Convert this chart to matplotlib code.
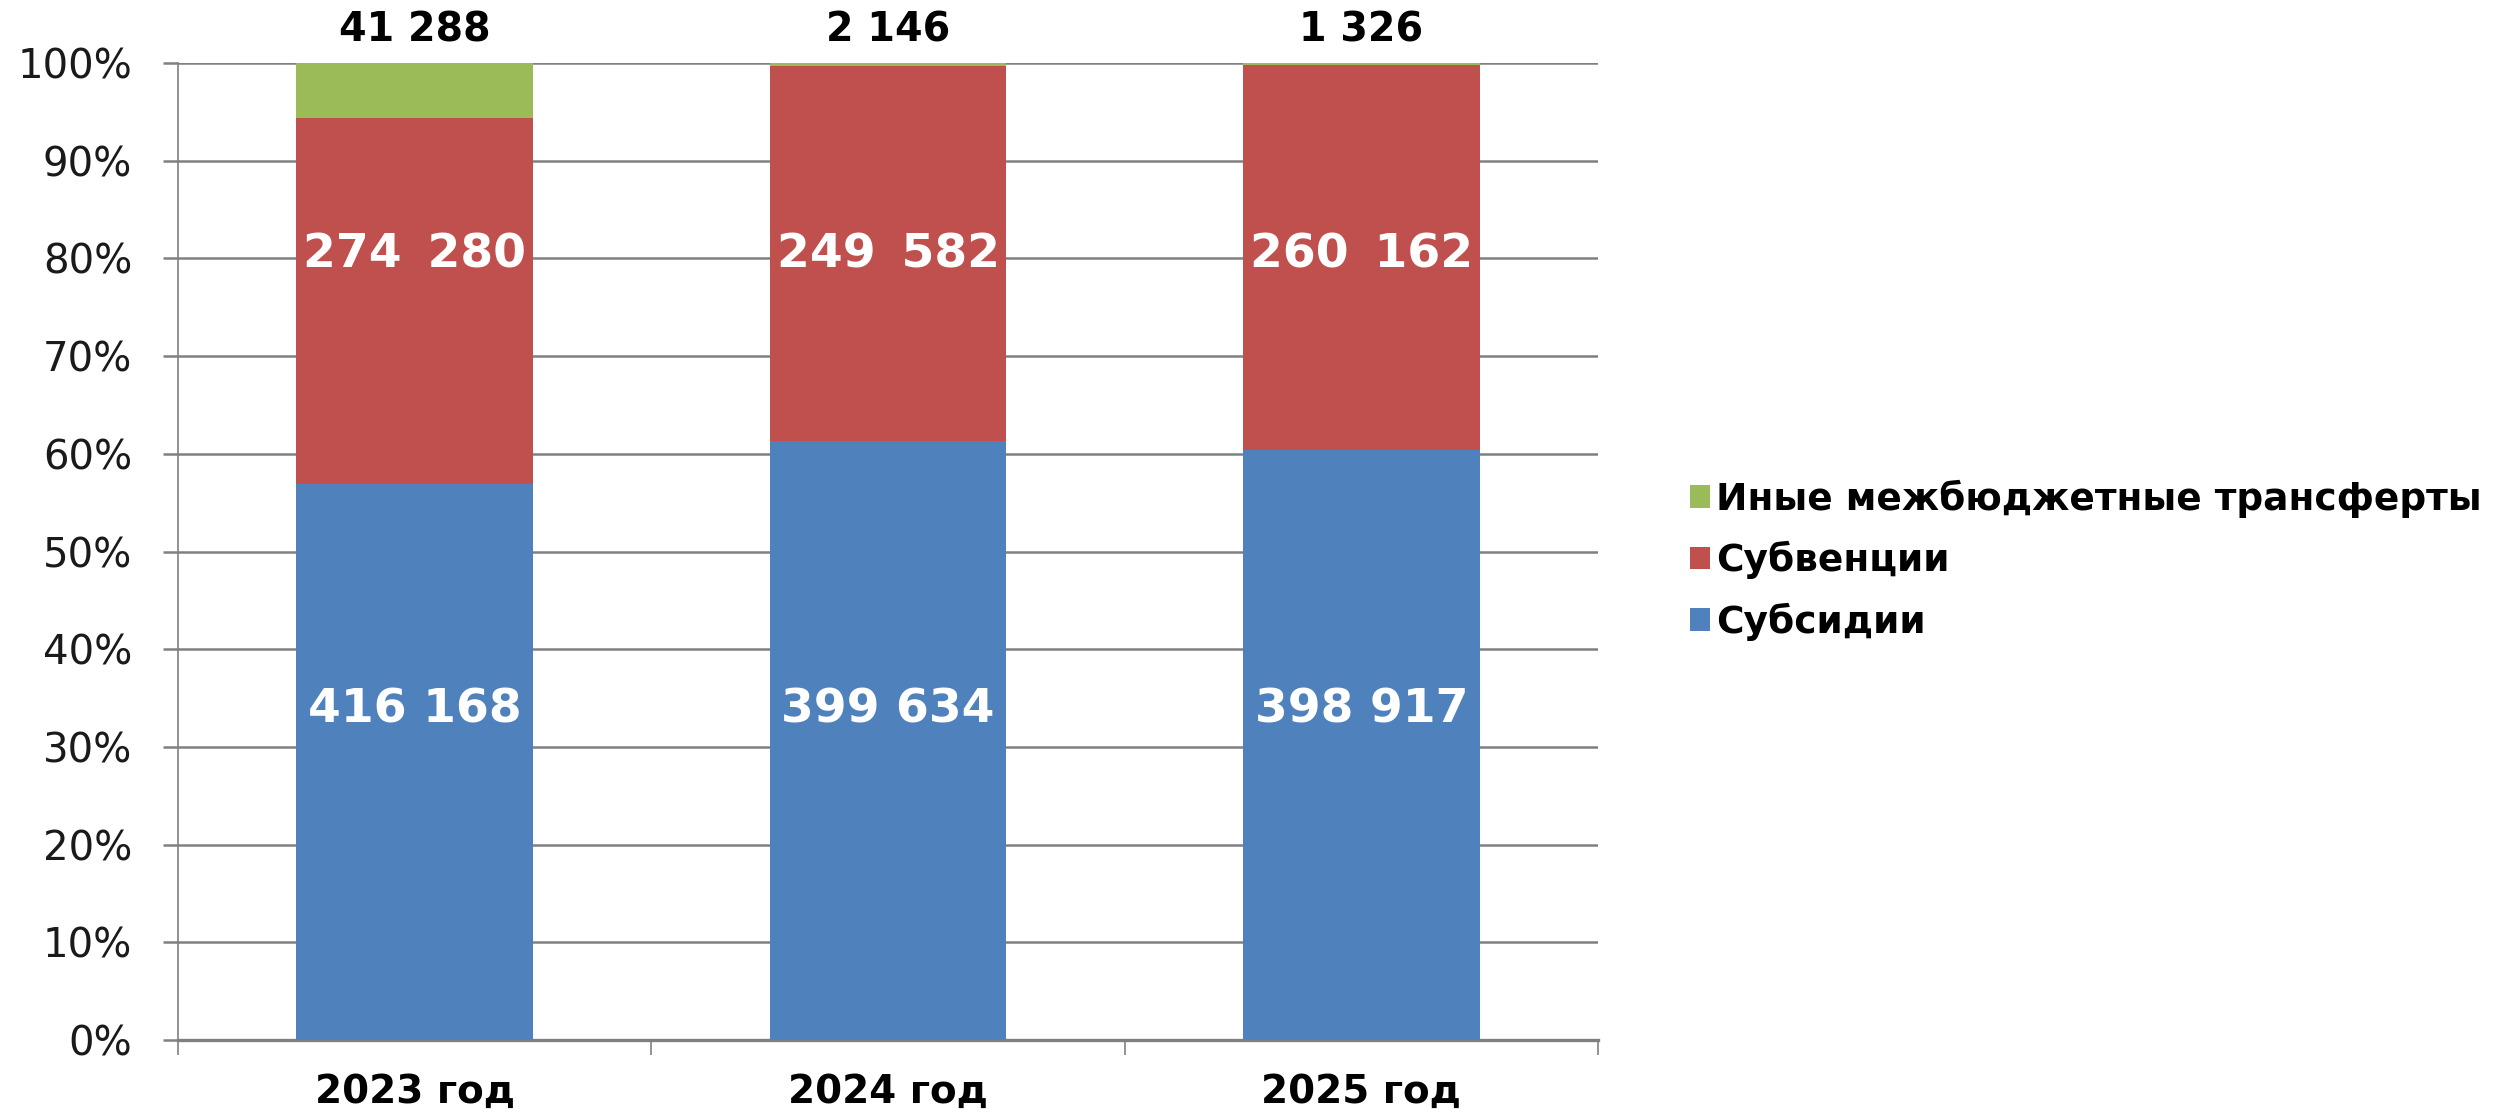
import numpy as np
import matplotlib
matplotlib.use("Agg")
import matplotlib.pyplot as plt
from matplotlib.ticker import PercentFormatter

plt.rcParams["font.family"] = ["DejaVu Sans"]

# ---- data (тыс. руб.) ----
years = ["2023 год", "2024 год", "2025 год"]
subsidies = [416168, 399634, 398917]
subventions = [274280, 249582, 260162]
other = [41288, 2146, 1326]

series_names = ["Субсидии", "Субвенции", "Иные межбюджетные трансферты"]
colors = ["#4F81BD", "#C0504D", "#9BBB59"]

vals = np.array([subsidies, subventions, other], dtype=float)
shares = vals / vals.sum(axis=0)


def fmt(v, gap=" "):
    return f"{v:,}".replace(",", gap)


fig = plt.figure(figsize=(25.05, 11.12), dpi=100)
ax = fig.add_axes([0.0711, 0.0647, 0.5668, 0.8786])

x = np.arange(len(years))
bottom = np.zeros(len(years))
for i in range(3):
    ax.bar(x, shares[i], 0.5, bottom=bottom, color=colors[i],
           label=series_names[i], zorder=3, linewidth=0)
    bottom += shares[i]

# labels (fixed heights, as in the original)
for j in range(len(years)):
    ax.text(x[j], 0.338, fmt(subsidies[j]), ha="center", va="center",
            color="white", fontsize=34, fontweight="bold", zorder=4)
    ax.text(x[j], 0.804, fmt(subventions[j], " \u2009"), ha="center", va="center",
            color="white", fontsize=34, fontweight="bold", zorder=4)
    ax.text(x[j], 1.033, fmt(other[j]), ha="center", va="center",
            color="black", fontsize=28.5, fontweight="bold", zorder=4)

ax.set_xlim(-0.5, 2.5)
ax.set_ylim(0, 1)
ax.set_yticks(np.arange(0, 1.01, 0.1))
ax.yaxis.set_major_formatter(PercentFormatter(1.0, decimals=0))
ax.yaxis.grid(True, color="#808080", linewidth=1.8, zorder=0)
ax.set_axisbelow(True)

ax.set_xticks(x)
ax.set_xticklabels(years, fontsize=28, fontweight="bold")
ax.set_xticks([-0.5, 0.5, 1.5, 2.5], minor=True)
ax.tick_params(axis="x", which="major", length=0, pad=24)
ax.tick_params(axis="x", which="minor", length=11, width=1.2, color="#808080")
ax.tick_params(axis="y", length=11, width=1.8, color="#808080", pad=22,
               labelsize=29, labelcolor="#1a1a1a")

for s in ["top", "right"]:
    ax.spines[s].set_visible(False)
ax.spines["left"].set_color("#808080")
ax.spines["left"].set_linewidth(1.2)
ax.spines["bottom"].set_color("#808080")
ax.spines["bottom"].set_linewidth(2.4)

handles, labels = ax.get_legend_handles_labels()
fig.legend(handles[::-1], labels[::-1], loc="center left",
           bbox_to_anchor=(0.667, 0.4964), frameon=False,
           prop={"size": 27, "weight": "bold"}, handlelength=0.55,
           handleheight=0.55, handletextpad=0.15, labelspacing=0.62, borderpad=0)

fig.savefig("out.png", dpi=100)
